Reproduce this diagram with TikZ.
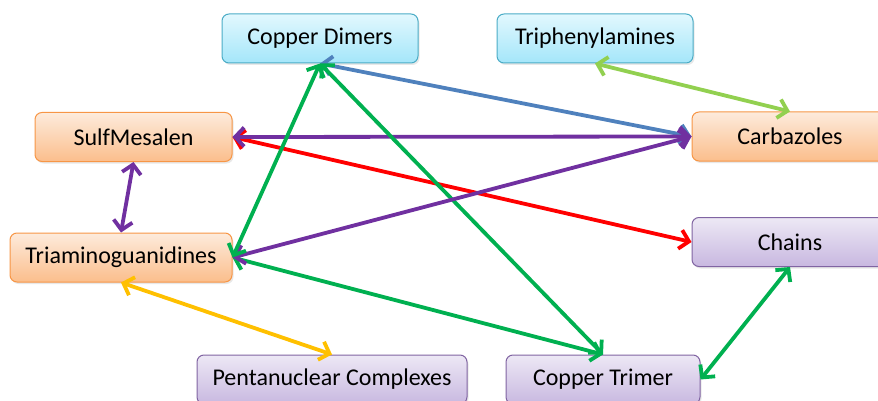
\documentclass[tikz,border=0pt]{standalone}
\usepackage{fontspec}
\setmainfont{Carlito}
\usetikzlibrary{arrows.meta,shadows}
\definecolor{cyanTop}{HTML}{E2F8FE}
\definecolor{cyanBot}{HTML}{A4E6FA}
\definecolor{cyanLine}{HTML}{4BACC6}
\definecolor{oraTop}{HTML}{FDEBDC}
\definecolor{oraBot}{HTML}{FBBE8C}
\definecolor{oraLine}{HTML}{F79646}
\definecolor{purTop}{HTML}{EDE8F5}
\definecolor{purBot}{HTML}{C8B8E0}
\definecolor{purLine}{HTML}{8064A2}
\definecolor{cBlue}{HTML}{4F81BD}
\definecolor{cGreen}{HTML}{00B050}
\definecolor{cLGreen}{HTML}{92D050}
\definecolor{cPurple}{HTML}{7030A0}
\definecolor{cRed}{HTML}{FF0000}
\definecolor{cYellow}{HTML}{FFC000}
\tikzset{
  box/.style={rectangle, rounded corners=7pt, line width=1pt,
    minimum height=49pt, inner sep=0pt, font=\fontsize{24}{28}\selectfont,
    drop shadow={shadow xshift=1.5pt, shadow yshift=-2pt, opacity=0.18}},
  cyanbox/.style={box, draw=cyanLine, top color=cyanTop, bottom color=cyanBot},
  orabox/.style={box, draw=oraLine, top color=oraTop, bottom color=oraBot},
  purbox/.style={box, draw=purLine, top color=purTop, bottom color=purBot},
  link/.style={line width=3.8pt, line cap=round, line join=round,
    {Straight Barb[length=9pt,width=19pt]}-{Straight Barb[length=9pt,width=19pt]}}
}
\begin{document}
\begin{tikzpicture}[x=1pt,y=-1pt]
\useasboundingbox (0,0) rectangle (878,401);
\node[cyanbox, minimum width=196pt] (CD) at (320,38.5) {Copper Dimers};
\node[cyanbox, minimum width=196pt] (TP) at (595,38.5) {Triphenylamines};
\node[orabox, minimum width=197pt] (SM) at (133.5,137) {SulfMesalen};
\node[orabox, minimum width=222pt] (TG) at (121,257.5) {Triaminoguanidines};
\node[orabox, minimum width=196pt] (CB) at (790,136.5) {Carbazoles};
\node[purbox, minimum width=196pt] (CH) at (790,242) {Chains};
\node[purbox, minimum width=270pt] (PC) at (332,379.5) {Pentanuclear Complexes};
\node[purbox, minimum width=194pt] (CT) at (603,379.5) {Copper Trimer};

\draw[link, cBlue] (CD.south) -- (CB.west);
\draw[link, cLGreen] (TP.south) -- (CB.north);
\draw[link, cRed] (SM.east) -- (CH.west);
\draw[link, cPurple] (SM.east) -- (CB.west);
\draw[link, cPurple] (SM.south) -- (TG.north);
\draw[link, cGreen] (CD.south) -- (CT.north);
\draw[link, cGreen] (TG.east) -- (CT.north);
\draw[link, cPurple] (TG.east) -- (CB.west);
\draw[link, cGreen] (CD.south) -- (TG.east);
\draw[link, cYellow] (TG.south) -- (PC.north);
\draw[link, cGreen] (CH.south) -- (CT.east);
\end{tikzpicture}
\end{document}
